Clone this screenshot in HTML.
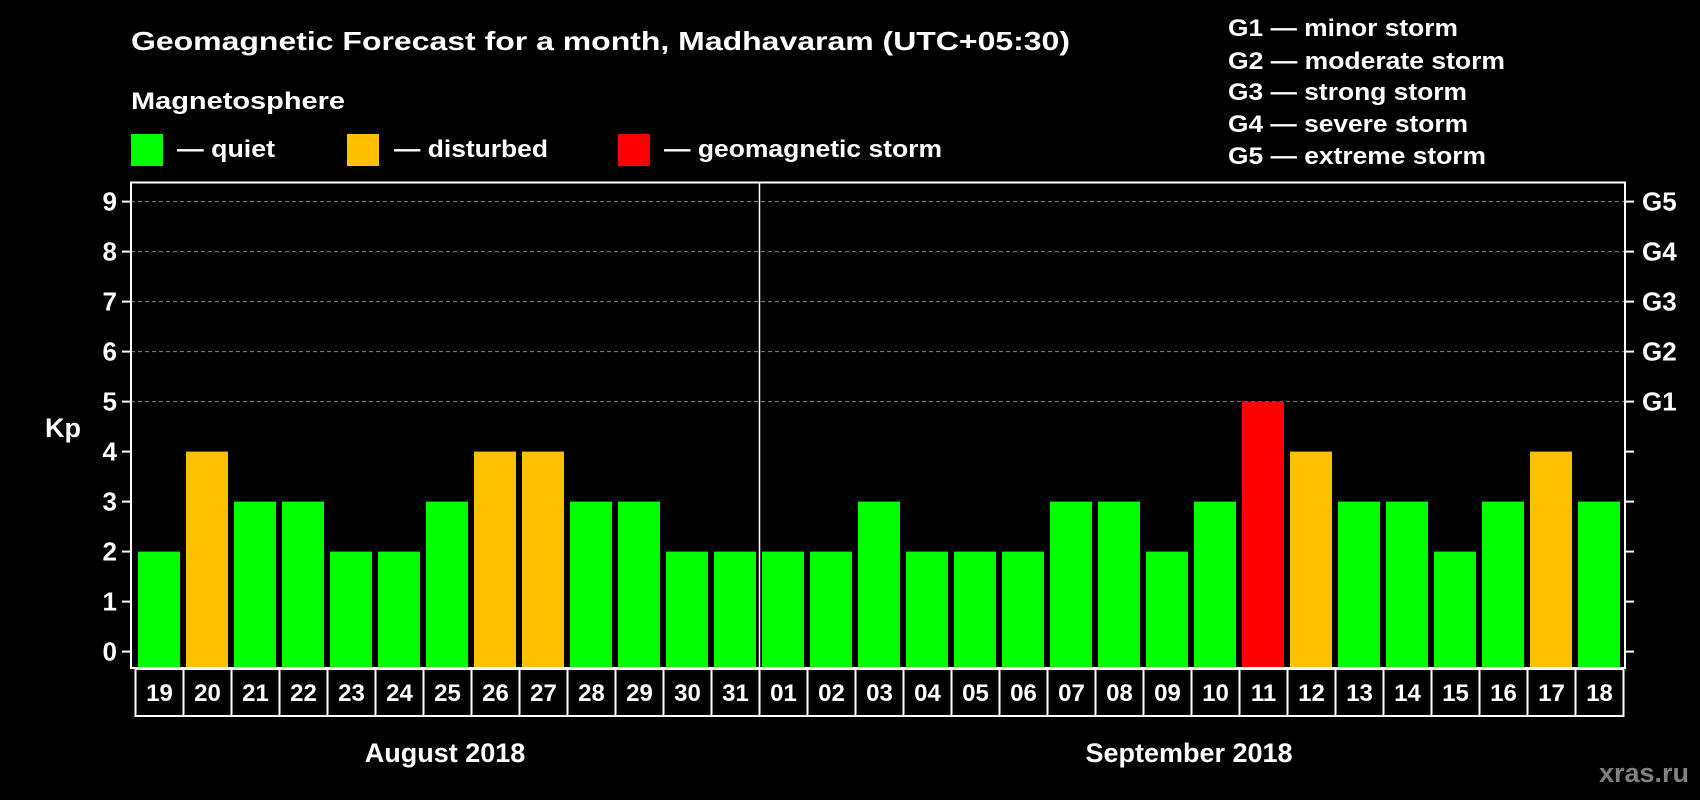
<!DOCTYPE html>
<html><head><meta charset="utf-8"><style>
html,body{margin:0;padding:0;background:#000;}
svg{display:block;font-family:"Liberation Sans",Arial,sans-serif;font-weight:bold;}
</style></head><body>
<svg id="chart" width="1700" height="800" viewBox="0 0 1700 800">
<rect width="1700" height="800" fill="#000"/>
<text x="131" y="50" fill="#fff" font-size="26" textLength="939" lengthAdjust="spacingAndGlyphs">Geomagnetic Forecast for a month, Madhavaram (UTC+05:30)</text>
<text x="131" y="109" fill="#fff" font-size="24" textLength="214" lengthAdjust="spacingAndGlyphs">Magnetosphere</text>
<g><rect x="131" y="134" width="32" height="32" fill="#00ff00"/><text x="177" y="157" fill="#fff" font-size="24" textLength="98" lengthAdjust="spacingAndGlyphs">— quiet</text></g>
<g><rect x="347" y="134" width="32" height="32" fill="#ffc000"/><text x="394" y="157" fill="#fff" font-size="24" textLength="154" lengthAdjust="spacingAndGlyphs">— disturbed</text></g>
<g><rect x="618" y="134" width="32" height="32" fill="#ff0000"/><text x="664" y="157" fill="#fff" font-size="24" textLength="278" lengthAdjust="spacingAndGlyphs">— geomagnetic storm</text></g>
<g fill="#fff" font-size="24">
<text x="1228" y="36" textLength="230" lengthAdjust="spacingAndGlyphs">G1 — minor storm</text>
<text x="1228" y="69" textLength="277" lengthAdjust="spacingAndGlyphs">G2 — moderate storm</text>
<text x="1228" y="100" textLength="239" lengthAdjust="spacingAndGlyphs">G3 — strong storm</text>
<text x="1228" y="132" textLength="240" lengthAdjust="spacingAndGlyphs">G4 — severe storm</text>
<text x="1228" y="164" textLength="258" lengthAdjust="spacingAndGlyphs">G5 — extreme storm</text>
</g>
<text x="63" y="437" fill="#fff" font-size="27" text-anchor="middle">Kp</text>
<text x="445" y="762" fill="#fff" font-size="27" text-anchor="middle">August 2018</text>
<text x="1189" y="762" fill="#fff" font-size="27" text-anchor="middle">September 2018</text>
<text x="1689" y="782" fill="#808080" font-size="27" text-anchor="end">xras.ru</text>
<g id="grid"></g><g id="bars"></g><g id="axes"></g><g id="dates"></g>
</svg>
<script>
const days = ["19","20","21","22","23","24","25","26","27","28","29","30","31","01","02","03","04","05","06","07","08","09","10","11","12","13","14","15","16","17","18"];
const kpValues = [2,4,3,3,2,2,3,4,4,3,3,2,2,2,2,3,2,2,2,3,3,2,3,5,4,3,3,2,3,4,3];
const yTicks = [0,1,2,3,4,5,6,7,8,9];
const gridLevels = [5,6,7,8,9];
const gLabels = ["G1","G2","G3","G4","G5"];
const NS="http://www.w3.org/2000/svg";
const L=131,R=1625,T=182.5,B=668,slot0=135.5,slotW=48;
function y(v){return 651.6-50*v;}
function xs(i){return slot0+i*slotW;}
function mk(tag,attrs,parent){const e=document.createElementNS(NS,tag);for(const k in attrs)e.setAttribute(k,attrs[k]);parent.appendChild(e);return e;}
const grid=document.getElementById('grid'),bars=document.getElementById('bars'),axes=document.getElementById('axes'),dates=document.getElementById('dates');
gridLevels.forEach(v=>{const l=mk('line',{x1:L,x2:R,y1:y(v),y2:y(v),stroke:'#888','stroke-width':1,'stroke-dasharray':'4,3'},grid);

});
kpValues.forEach((v,i)=>{const c=v>=5?'#ff0000':(v>=4?'#ffc000':'#00ff00');
const r=mk('rect',{x:xs(i)+2.5,y:y(v),width:42,height:B-y(v),fill:c},bars);

});
const frame=mk('rect',{x:L,y:T,width:R-L,height:B-T,fill:'none',stroke:'#fff','stroke-width':2},axes);


const div=mk('line',{x1:xs(13),x2:xs(13),y1:T,y2:B,stroke:'#fff','stroke-width':1.5},axes);


yTicks.forEach(v=>{mk('line',{x1:L-9,x2:L,y1:y(v),y2:y(v),stroke:'#fff','stroke-width':2},axes);
mk('line',{x1:R,x2:R+9,y1:y(v),y2:y(v),stroke:'#fff','stroke-width':2},axes);
const t=mk('text',{x:117,y:y(v)+9,fill:'#fff','font-size':26,'text-anchor':'end'},axes);t.textContent=v;

});
gLabels.forEach((g,i)=>{const t=mk('text',{x:1642,y:y(5+i)+9,fill:'#fff','font-size':26},axes);t.textContent=g;

});
days.forEach((d,i)=>{const r=mk('rect',{x:xs(i),y:669,width:slotW,height:47,fill:'#000',stroke:'#fff','stroke-width':2},dates);


const t=mk('text',{x:xs(i)+slotW/2,y:701,fill:'#fff','font-size':24,'text-anchor':'middle'},dates);t.textContent=d;

});
</script>
</body></html>
